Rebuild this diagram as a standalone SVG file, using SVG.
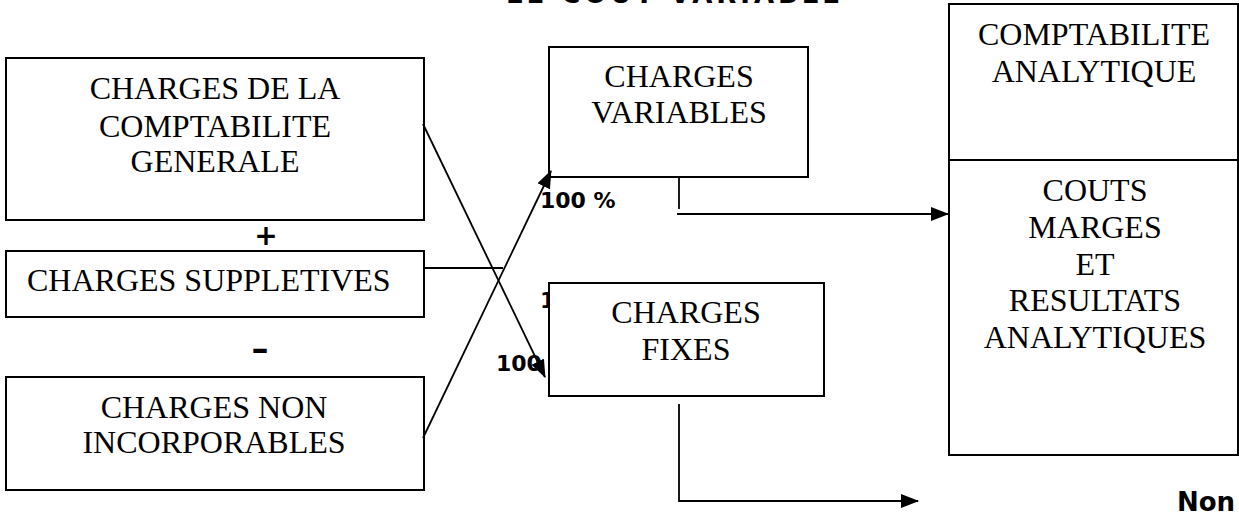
<svg xmlns="http://www.w3.org/2000/svg" width="1239" height="514" viewBox="0 0 1239 514">
<style>
.box{fill:#fff;stroke:#000;stroke-width:2}
.t{font-family:"Liberation Serif","Times New Roman",serif;font-size:32px;fill:#000;text-anchor:middle}
.b{font-family:"DejaVu Sans",sans-serif;font-weight:bold;fill:#000}
.ln{fill:none;stroke:#000;stroke-width:1.8}
</style>
<defs>
<marker id="ah" markerUnits="userSpaceOnUse" markerWidth="18" markerHeight="14" viewBox="0 0 18 14" refX="17" refY="7" orient="auto">
<path d="M0,0 L18,7 L0,14 Z" fill="#000"/>
</marker>
</defs>
<rect width="1239" height="514" fill="#fff"/>
<text id="title" class="b" x="506" y="3" font-size="26" textLength="334" lengthAdjust="spacing">LE COUT VARIABLE</text>
<g id="labels">
<text class="b" x="540" y="208" font-size="22">100 %</text>
<text class="b" x="540" y="308" font-size="22">100 %</text>
<text class="b" x="496" y="371" font-size="22">100 %</text>
<text class="b" x="266" y="245" font-size="28" text-anchor="middle">+</text>
<text class="b" x="260" y="360" font-size="34" text-anchor="middle">–</text>
<text class="b" x="1177" y="511" font-size="26">Non</text>
</g>
<g id="n-generale">
<rect class="box" x="6" y="58" width="418" height="162"/>
<text class="t" x="215" y="99">CHARGES DE LA</text>
<text class="t" x="215" y="137">COMPTABILITE</text>
<text class="t" x="215" y="172">GENERALE</text>
</g>
<g id="n-suppletives">
<rect class="box" x="6" y="251" width="418" height="66"/>
<text class="t" x="27" y="291" style="text-anchor:start">CHARGES SUPPLETIVES</text>
</g>
<g id="n-non-incorporables">
<rect class="box" x="6" y="377" width="418" height="113"/>
<text class="t" x="214" y="418">CHARGES NON</text>
<text class="t" x="214" y="453">INCORPORABLES</text>
</g>
<g id="n-variables">
<rect class="box" x="549" y="47" width="259" height="130"/>
<text class="t" x="679" y="87">CHARGES</text>
<text class="t" x="679" y="123">VARIABLES</text>
</g>
<g id="n-fixes">
<rect class="box" x="549" y="283" width="275" height="113"/>
<text class="t" x="686" y="323">CHARGES</text>
<text class="t" x="686" y="360">FIXES</text>
</g>
<g id="n-comptabilite-analytique">
<rect class="box" x="949" y="4" width="289" height="156"/>
<text class="t" x="1094" y="45">COMPTABILITE</text>
<text class="t" x="1094" y="82">ANALYTIQUE</text>
</g>
<g id="n-couts">
<rect class="box" x="949" y="160" width="289" height="295"/>
<text class="t" x="1095" y="201">COUTS</text>
<text class="t" x="1095" y="238">MARGES</text>
<text class="t" x="1095" y="275">ET</text>
<text class="t" x="1095" y="311">RESULTATS</text>
<text class="t" x="1095" y="348">ANALYTIQUES</text>
</g>
<g id="connectors">
<line class="ln" x1="423" y1="124" x2="545" y2="377" marker-end="url(#ah)"/>
<line class="ln" x1="423" y1="438" x2="551" y2="171" marker-end="url(#ah)"/>
<line class="ln" x1="424" y1="268" x2="503" y2="268"/>
<line class="ln" x1="679" y1="178" x2="679" y2="209"/>
<line class="ln" x1="677" y1="214" x2="948" y2="214" marker-end="url(#ah)"/>
<polyline class="ln" points="679,404 679,501 918,501" marker-end="url(#ah)"/>
</g>
</svg>
